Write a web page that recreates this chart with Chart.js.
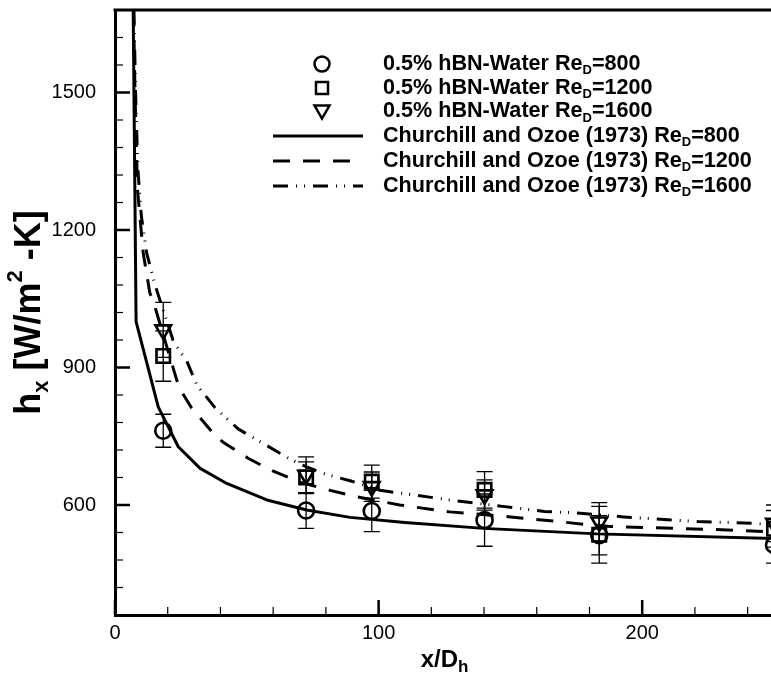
<!DOCTYPE html>
<html><head><meta charset="utf-8">
<script src="https://cdn.jsdelivr.net/npm/chart.js@4"></script>
<style>
html,body{margin:0;padding:0;background:#fff;overflow:hidden;width:771px;height:678px}
#wrap{position:relative;width:780px;height:678px}
</style>
</head><body><div id="wrap"><canvas id="c" width="780" height="678"></canvas></div>
<script>
// ---- data ----
const xStations = [18.3, 72.5, 97.4, 140.2, 183.7, 250];
const hRe800  = [762, 588, 587, 567, 534, 513];
const errRe800  = [36, 39, 45, 57, 43, 40];
const hRe1200 = [925, 660, 651, 633, 535, 548];
const errRe1200 = [55, 34, 36, 40, 62, 40];
const hRe1600 = [982, 665, 640, 622, 563, 560];
const errRe1600 = [60, 40, 32, 33, 42, 40];

const corrX800 = [6.9, 8.0, 16.4, 24, 32.3, 42.4, 57.6, 72.7, 89.2, 110, 139.8, 182.8, 250];
const corr800  = [1680, 1000, 814, 727, 680, 647, 611, 589, 573, 562, 549, 537, 527];
const corrX1200 = [7.0, 7.6, 8.5, 10.7, 13.2, 14.7, 23.4, 25.3, 29, 32.3, 37.2, 41, 46.7, 50.5, 58.8, 70, 81.6, 91.7, 101.7, 108, 127, 150, 168, 178, 188, 225, 250];
const corr1200  = [1680, 1500, 1290, 1150, 1063, 1041, 873, 847, 812, 790, 757, 737, 716, 702, 677, 650, 632, 618, 607, 600, 585, 574, 564, 558, 553, 547, 541];
const corrX1600 = [7.2, 7.8, 8.7, 10, 12, 15.2, 18.3, 22, 25, 27.1, 31, 38, 46.7, 57.5, 66.4, 72.7, 80, 89.2, 100.5, 127, 147, 163, 174, 193, 221, 233, 250];
const corr1600  = [1680, 1500, 1330, 1230, 1150, 1080, 1025, 960, 932, 916, 862, 812, 766, 730, 700, 683, 667, 653, 632, 611, 597, 586, 583, 574, 564, 562, 558];

const xTickValues = [0, 100, 200];
const yTickValues = [600, 900, 1200, 1500];
const xMinorStep = 20, yMinorStep = 60;
const xRange = [0, 250], yRange = [360, 1680];

const legendNames = [
  ['0.5% hBN-Water Re', 'D', '=800'],
  ['0.5% hBN-Water Re', 'D', '=1200'],
  ['0.5% hBN-Water Re', 'D', '=1600'],
  ['Churchill and Ozoe (1973) Re', 'D', '=800'],
  ['Churchill and Ozoe (1973) Re', 'D', '=1200'],
  ['Churchill and Ozoe (1973) Re', 'D', '=1600']
];

const DASH1200 = [17, 13];
const DASH1600 = [15, 8, 1, 7, 1, 8];
const FONT = '"Liberation Sans", Arial, Helvetica, sans-serif';

const pts = (xs, ys) => xs.map((x, i) => ({x: x, y: ys[i]}));

function drawRich(ctx, parts, x, y, size, align, ratio) {
  const small = Math.round(size * (ratio || 0.62));
  const fonts = {n: 'bold ' + size + 'px ' + FONT, sub: 'bold ' + small + 'px ' + FONT, sup: 'bold ' + small + 'px ' + FONT};
  const off = {n: 0, sub: size * 0.32, sup: -size * 0.38};
  let total = 0;
  parts.forEach(p => { ctx.font = fonts[p[1]]; total += ctx.measureText(p[0]).width; });
  let cx = align === 'center' ? x - total / 2 : x;
  ctx.textBaseline = 'middle';
  ctx.textAlign = 'left';
  parts.forEach(p => { ctx.font = fonts[p[1]]; ctx.fillText(p[0], cx, y + off[p[1]]); cx += ctx.measureText(p[0]).width; });
}

const decorPlugin = {
  id: 'decor',
  beforeDatasetsDraw(chart) {
    const ctx = chart.ctx, xs = chart.scales.x, ys = chart.scales.y;
    ctx.save();
    ctx.strokeStyle = '#000';
    ctx.lineWidth = 1.3;
    [[hRe800, errRe800], [hRe1200, errRe1200], [hRe1600, errRe1600]].forEach(([h, e]) => {
      h.forEach((v, i) => {
        const px = xs.getPixelForValue(xStations[i]);
        const t = ys.getPixelForValue(v + e[i]), b = ys.getPixelForValue(v - e[i]);
        ctx.beginPath();
        ctx.moveTo(px, t); ctx.lineTo(px, b);
        ctx.moveTo(px - 8, t); ctx.lineTo(px + 8, t);
        ctx.moveTo(px - 8, b); ctx.lineTo(px + 8, b);
        ctx.stroke();
      });
    });
    ctx.restore();
  },
  afterDraw(chart) {
    const ctx = chart.ctx, xs = chart.scales.x, ys = chart.scales.y, a = chart.chartArea;
    ctx.save();
    ctx.strokeStyle = '#000';
    ctx.fillStyle = '#000';
    ctx.lineWidth = 3;
    ctx.beginPath(); ctx.moveTo(a.left - 1.5, a.top); ctx.lineTo(a.right + 2, a.top); ctx.stroke();
    for (let v = xRange[0]; v <= xRange[1]; v += xMinorStep) {
      const px = xs.getPixelForValue(v);
      ctx.lineWidth = 1.2;
      ctx.beginPath(); ctx.moveTo(px, a.bottom); ctx.lineTo(px, a.bottom - 8); ctx.stroke();
    }
    for (const v of xTickValues) {
      const px = xs.getPixelForValue(v);
      ctx.lineWidth = 2.5;
      ctx.beginPath(); ctx.moveTo(px, a.bottom); ctx.lineTo(px, a.bottom - 15); ctx.stroke();
    }
    for (let v = yRange[0]; v <= yRange[1]; v += yMinorStep) {
      const major = yTickValues.includes(v);
      const py = ys.getPixelForValue(v);
      ctx.lineWidth = major ? 2.5 : 1.2;
      ctx.beginPath(); ctx.moveTo(a.left, py); ctx.lineTo(a.left + (major ? 15 : 8), py); ctx.stroke();
    }
    // axis titles
    ctx.save();
    ctx.translate(30, (a.top + a.bottom) / 2);
    ctx.rotate(-Math.PI / 2);
    drawRich(ctx, [['h', 'n'], ['x', 'sub'], [' [W/m', 'n'], ['2', 'sup'], [' -K]', 'n']], 0, 0, 36, 'center', 0.6);
    ctx.restore();
    drawRich(ctx, [['x/D', 'n'], ['h', 'sub']], (a.left + a.right) / 2, 660, 24, 'center', 0.7);

    // legend
    const rowsY = [64, 88, 111.5, 136, 161, 186];
    const mx = 322, lx0 = 273, lx1 = 363, tx = 383;
    ctx.lineWidth = 2.5;
    ctx.beginPath(); ctx.arc(mx, rowsY[0], 7.5, 0, Math.PI * 2); ctx.stroke();
    ctx.strokeRect(mx - 6, rowsY[1] - 6, 12, 12);
    ctx.beginPath();
    ctx.moveTo(mx - 7.5, rowsY[2] - 6); ctx.lineTo(mx + 7.5, rowsY[2] - 6); ctx.lineTo(mx, rowsY[2] + 7); ctx.closePath(); ctx.stroke();
    ctx.lineWidth = 3;
    [[], DASH1200, DASH1600].forEach((d, i) => {
      ctx.setLineDash(d);
      ctx.beginPath(); ctx.moveTo(lx0, rowsY[3 + i]); ctx.lineTo(lx1, rowsY[3 + i]); ctx.stroke();
    });
    ctx.setLineDash([]);
    legendNames.forEach((n, i) => {
      drawRich(ctx, [[n[0], 'n'], [n[1], 'sub'], [n[2], 'n']], tx, rowsY[i], 21.6, 'left');
    });
    ctx.restore();
  }
};

const lineDs = (data, dash) => ({
  type: 'line', data: data, showLine: true, pointRadius: 0, borderColor: '#000',
  borderWidth: 3, borderDash: dash, fill: false, tension: 0, borderJoinStyle: 'round'
});
const markDs = (data, style, r, rot) => ({
  type: 'scatter', data: data, pointStyle: style, pointRadius: r, pointRotation: rot,
  borderColor: '#000', backgroundColor: 'rgba(0,0,0,0)', pointBorderWidth: 2.6, borderWidth: 2.6, clip: false
});

const zeroPad = s => { s.paddingTop = 0; s.paddingBottom = 0; s.paddingLeft = 0; s.paddingRight = 0; };

new Chart(document.getElementById('c'), {
  type: 'scatter',
  data: {
    datasets: [
      markDs(pts(xStations, hRe800), 'circle', 8, 0),
      markDs(pts(xStations, hRe1200), 'rect', 9.5, 0),
      markDs(pts(xStations, hRe1600), 'triangle', 9, 180),
      lineDs(pts(corrX800, corr800), []),
      lineDs(pts(corrX1200, corr1200), DASH1200),
      lineDs(pts(corrX1600, corr1600), DASH1600)
    ]
  },
  plugins: [decorPlugin],
  options: {
    responsive: false,
    animation: false,
    devicePixelRatio: 1,
    events: [],
    layout: {autoPadding: false, padding: {top: 10, right: 6, left: 0, bottom: 0}},
    plugins: {legend: {display: false}, tooltip: {enabled: false}},
    scales: {
      x: {
        type: 'linear', min: xRange[0], max: xRange[1],
        grid: {display: false, drawTicks: false},
        border: {display: true, width: 3, color: '#000'},
        afterBuildTicks: s => { s.ticks = xTickValues.map(v => ({value: v})); },
        afterFit: s => { s.height = 63; zeroPad(s); },
        ticks: {color: '#000', padding: 6, font: {family: FONT, size: 20}, maxRotation: 0, callback: v => String(v)}
      },
      y: {
        type: 'linear', min: yRange[0], max: yRange[1],
        grid: {display: false, drawTicks: false},
        border: {display: true, width: 3, color: '#000'},
        afterBuildTicks: s => { s.ticks = yTickValues.map(v => ({value: v})); },
        afterFit: s => { s.width = 115; zeroPad(s); },
        ticks: {color: '#000', padding: 19, font: {family: FONT, size: 20}, callback: v => String(v)}
      }
    }
  }
});
</script>
</body></html>
